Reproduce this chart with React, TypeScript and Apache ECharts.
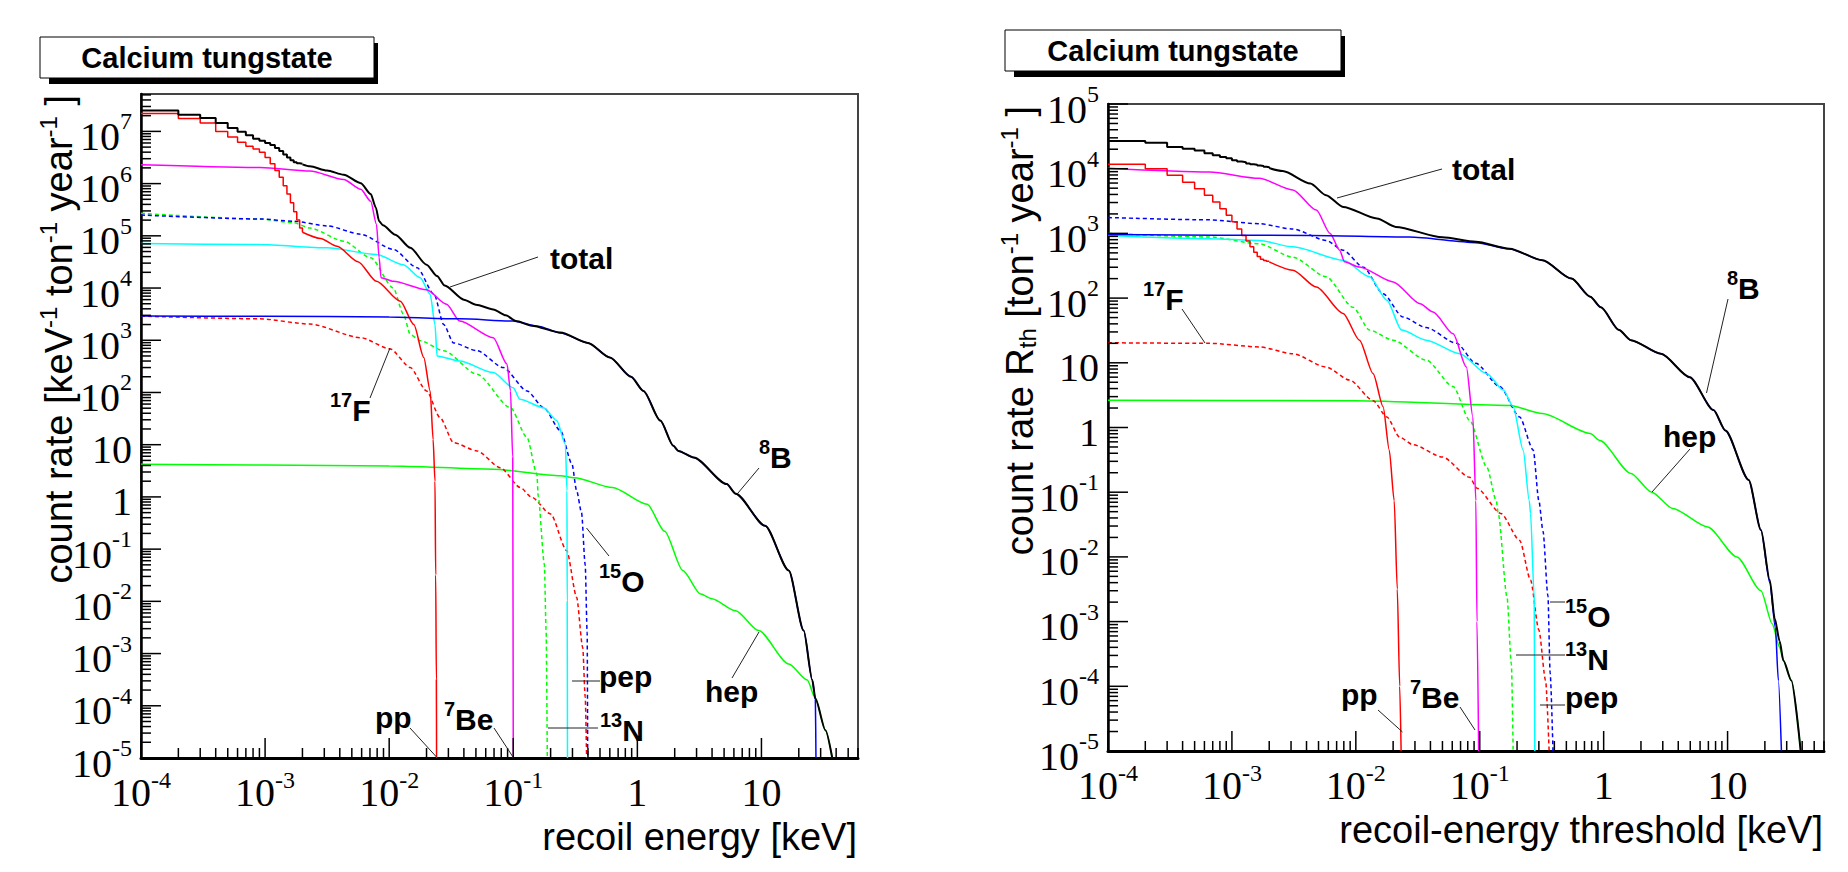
import React, { useEffect, useRef } from 'react';
import * as echarts from 'echarts';

type Pt = [number, number];

// ---------------- axis ranges ----------------
const X_RANGE: Pt = [1e-4, 60];
const LEFT_Y_RANGE: Pt = [1e-5, 5.2e7];
const RIGHT_Y_RANGE: Pt = [1e-5, 1e5];
const X_DECADES = [-4, -3, -2, -1, 0, 1];
const LEFT_Y_DECADES = [-5, -4, -3, -2, -1, 0, 1, 2, 3, 4, 5, 6, 7];
const RIGHT_Y_DECADES = [-5, -4, -3, -2, -1, 0, 1, 2, 3, 4, 5];
const MINOR_STEPS = [2, 3, 4, 5, 6, 7, 8, 9];

// ---------------- left panel: count rate vs recoil energy [keV, keV^-1 ton^-1 year^-1] ----------------
const leftTotalBins: Pt[] = [[1e-4, 2.51e7], [2e-4, 2.09e7], [3e-4, 1.8e7], [4e-4, 1.45e7], [5e-4, 1.16e7], [6e-4, 9.8e6], [7e-4, 8.4e6], [8e-4, 7.2e6], [9e-4, 6.6e6], [1.0e-3, 6.0e6], [1.1e-3, 5.5e6], [1.2e-3, 4.8e6], [1.3e-3, 4.2e6], [1.4e-3, 3.6e6], [1.5e-3, 3.16e6], [1.6e-3, 2.8e6], [1.7e-3, 2.57e6], [1.8e-3, 2.45e6], [1.9e-3, 2.4e6], [2.0e-3, 2.34e6]];
const leftTotal: Pt[] = [[2.0e-3, 2.34e6], [2.3e-3, 2.14e6], [3.16e-3, 1.78e6], [4.3e-3, 1.48e6], [5.9e-3, 1.02e6], [7.1e-3, 6.3e5], [7.8e-3, 3.5e5], [8.3e-3, 1.9e5], [8.9e-3, 1.6e5], [1.12e-2, 1.05e5], [1.48e-2, 5.9e4], [2.0e-2, 2.8e4], [2.43e-2, 1.7e4], [2.8e-2, 1.12e4], [4.0e-2, 6.0e3], [5.0e-2, 4.8e3], [6.9e-2, 3.9e3], [8.7e-2, 3.0e3], [0.105, 2.34e3], [0.141, 1.9e3], [0.24, 1.41e3], [0.40, 890], [0.60, 470], [0.89, 200], [1.12, 107], [1.53, 29], [1.95, 9.5], [2.14, 7.6], [2.84, 5.7], [5.25, 1.76], [6.2, 1.15], [10.7, 0.28], [16.6, 0.039], [21.9, 2.75e-3], [25.7, 3.1e-4], [27.2, 1.38e-4], [32.8, 3.4e-5], [37.2, 1e-5]];
const leftB8: Pt[] = [[1e-4, 2.9e3], [1e-3, 2.88e3], [1e-2, 2.8e3], [3.7e-2, 2.57e3], [0.1, 2.34e3], [0.158, 1.86e3], [0.24, 1.38e3], [0.40, 890], [0.60, 470], [0.89, 200], [1.12, 107], [1.53, 29], [1.95, 9.5], [2.14, 7.6], [2.84, 5.7], [5.25, 1.76], [6.2, 1.15], [10.7, 0.28], [16.6, 0.039], [21.9, 2.75e-3], [25.7, 3.1e-4], [27.2, 1.3e-4], [27.5, 1e-5]];
const leftPpBins: Pt[] = [[1e-4, 2.19e7], [2e-4, 1.76e7], [3e-4, 1.45e7], [4e-4, 1.0e7], [5e-4, 7.8e6], [6e-4, 6.2e6], [7e-4, 5.2e6], [8e-4, 4.6e6], [9e-4, 4.0e6], [1.0e-3, 3.16e6], [1.1e-3, 2.4e6], [1.2e-3, 1.78e6], [1.3e-3, 1.32e6], [1.4e-3, 9.1e5], [1.5e-3, 6.3e5], [1.6e-3, 4.3e5], [1.7e-3, 2.9e5], [1.8e-3, 2.0e5], [1.9e-3, 1.41e5], [2.0e-3, 1.17e5]];
const leftPp: Pt[] = [[2.0e-3, 1.17e5], [2.8e-3, 8.9e4], [3.8e-3, 6.3e4], [5.6e-3, 3.2e4], [7.9e-3, 1.35e4], [1.23e-2, 5.6e3], [1.58e-2, 2.0e3], [1.9e-2, 470], [2.14e-2, 107], [2.26e-2, 12.6], [2.34e-2, 2.0], [2.37e-2, 0.032], [2.40e-2, 3.2e-4], [2.41e-2, 1e-5]];
const leftBe7: Pt[] = [[1e-4, 2.3e6], [9.1e-4, 2.04e6], [2.3e-3, 1.74e6], [4.3e-3, 1.2e6], [5.9e-3, 7.8e5], [7.1e-3, 4.6e5], [7.9e-3, 1.66e5], [8.3e-3, 3.8e4], [8.6e-3, 1.58e4], [1.08e-2, 1.35e4], [2.0e-2, 9.3e3], [2.9e-2, 4.9e3], [3.7e-2, 2.34e3], [6.9e-2, 1.12e3], [8.9e-2, 350], [9.5e-2, 107], [9.9e-2, 5.7], [0.1, 1e-5]];
const leftO15: Pt[] = [[1e-4, 2.5e5], [9.1e-4, 2.1e5], [1.7e-3, 1.9e5], [3.16e-3, 1.55e5], [5.9e-3, 1.07e5], [1.08e-2, 5.5e4], [1.68e-2, 2.45e4], [2.3e-2, 7.6e3], [2.75e-2, 2.0e3], [3.3e-2, 890], [5.1e-2, 630], [8.3e-2, 300], [0.129, 107], [0.176, 51], [0.24, 18.6], [0.297, 4.3], [0.324, 1.32], [0.355, 0.5], [0.38, 0.05], [0.394, 2.5e-3], [0.398, 1e-5]];
const leftN13: Pt[] = [[1e-4, 2.7e5], [9.1e-4, 2.1e5], [1.7e-3, 1.78e5], [2.3e-3, 1.41e5], [4.3e-3, 7.9e4], [7.1e-3, 3.8e4], [1.08e-2, 1.0e4], [1.3e-2, 3.2e3], [1.48e-2, 1.29e3], [1.78e-2, 980], [2.75e-2, 630], [5.1e-2, 224], [9.5e-2, 51], [0.129, 13.8], [0.155, 2.75], [0.159, 1.0], [0.178, 0.052], [0.184, 2.75e-3], [0.188, 1e-5]];
const leftPep: Pt[] = [[1e-4, 7.1e4], [9.1e-4, 6.8e4], [3.16e-3, 5.9e4], [7.9e-3, 4.4e4], [1.3e-2, 2.8e4], [1.78e-2, 1.58e4], [2.14e-2, 7.6e3], [2.34e-2, 2.0e3], [2.43e-2, 500], [3.7e-2, 400], [6.9e-2, 240], [0.1, 123], [0.113, 74], [0.176, 51], [0.224, 29], [0.263, 10.2], [0.271, 1.32], [0.272, 0.01], [0.2735, 1e-5]];
const leftF17: Pt[] = [[1e-4, 2.9e3], [9.1e-4, 2.57e3], [2.3e-3, 2.04e3], [5.9e-3, 1.12e3], [1.02e-2, 680], [1.48e-2, 300], [2.0e-2, 107], [2.57e-2, 33], [3.3e-2, 11], [5.1e-2, 7.6], [7.9e-2, 3.6], [0.114, 1.51], [0.141, 0.98], [0.2, 0.47], [0.27, 0.093], [0.324, 0.012], [0.363, 1.3e-3], [0.38, 1.48e-4], [0.39, 1e-5]];
const leftHep: Pt[] = [[1e-4, 4.2], [1e-3, 4.1], [1e-2, 3.9], [6.9e-2, 3.4], [0.24, 2.54], [0.31, 2.34], [0.63, 1.51], [1.2, 0.72], [1.66, 0.22], [2.32, 0.039], [3.24, 0.0138], [3.98, 0.0112], [6.2, 6.6e-3], [9.5, 2.75e-3], [16.6, 6.3e-4], [23.4, 3.1e-4], [27.2, 1.38e-4], [32.8, 3.4e-5], [37.2, 1e-5]];

// ---------------- right panel: count rate above threshold [keV, ton^-1 year^-1] ----------------
const rightTotalBins: Pt[] = [[1e-4, 2.69e4], [2e-4, 2.51e4], [3e-4, 2.16e4], [4e-4, 2.04e4], [5e-4, 1.91e4], [6e-4, 1.74e4], [7e-4, 1.62e4], [8e-4, 1.51e4], [9e-4, 1.45e4], [1.0e-3, 1.35e4], [1.1e-3, 1.29e4], [1.2e-3, 1.26e4], [1.3e-3, 1.2e4], [1.4e-3, 1.17e4], [1.5e-3, 1.15e4], [1.6e-3, 1.12e4], [1.7e-3, 1.1e4], [1.8e-3, 1.07e4], [1.9e-3, 1.05e4], [2.0e-3, 1.02e4]];
const rightTotal: Pt[] = [[2.0e-3, 1.02e4], [2.57e-3, 9.2e3], [4.3e-3, 5.9e3], [5.75e-3, 3.9e3], [7.9e-3, 2.57e3], [1.48e-2, 1.7e3], [2.1e-2, 1.26e3], [5.0e-2, 870], [9.3e-2, 740], [0.174, 580], [0.32, 385], [0.55, 200], [0.78, 105], [0.95, 72], [1.33, 32], [1.66, 22.4], [2.9, 13.8], [4.95, 6.0], [7.7, 1.86], [9.6, 0.9], [14.8, 0.155], [18.6, 0.026], [21.9, 4.4e-3], [24.0, 1.12e-3], [26.3, 5e-4], [28.2, 2.5e-4], [32.7, 1.23e-4], [38.9, 1e-5]];
const rightB8: Pt[] = [[1e-4, 960], [4.3e-3, 930], [2.7e-2, 880], [9.3e-2, 720], [0.174, 575], [0.32, 385], [0.55, 200], [0.78, 105], [0.95, 72], [1.33, 32], [1.66, 22.4], [2.9, 13.8], [4.95, 6.0], [7.7, 1.86], [9.6, 0.9], [14.8, 0.155], [18.6, 0.026], [21.9, 4.0e-3], [24.3, 8e-4], [25.7, 1.23e-4], [27.2, 1e-5]];
const rightPpBins: Pt[] = [[1e-4, 1.17e4], [2e-4, 1.0e4], [3e-4, 7.9e3], [4e-4, 6.2e3], [5e-4, 4.9e3], [6e-4, 3.9e3], [7e-4, 3.05e3], [8e-4, 2.4e3], [9e-4, 1.9e3], [1.0e-3, 1.51e3], [1.1e-3, 1.17e3], [1.2e-3, 930], [1.3e-3, 760], [1.4e-3, 620], [1.5e-3, 510], [1.6e-3, 440], [1.7e-3, 400], [1.8e-3, 380], [1.9e-3, 370], [2.0e-3, 363]];
const rightPp: Pt[] = [[2.0e-3, 363], [3.1e-3, 270], [4.8e-3, 148], [7.9e-3, 58], [1.07e-2, 22.4], [1.38e-2, 6.8], [1.66e-2, 2.1], [1.86e-2, 0.45], [2.04e-2, 0.074], [2.16e-2, 3.2e-3], [2.26e-2, 1e-4], [2.32e-2, 1e-5]];
const rightBe7: Pt[] = [[1e-4, 1.02e4], [6.6e-4, 8.9e3], [1.66e-3, 7.1e3], [3.1e-3, 4.7e3], [4.8e-3, 2.3e3], [6.2e-3, 1.0e3], [7.4e-3, 550], [8.1e-3, 363], [1.07e-2, 302], [2.0e-2, 178], [3.3e-2, 82], [4.2e-2, 61], [6.1e-2, 28], [7.8e-2, 8.6], [8.8e-2, 1.45], [9.3e-2, 0.074], [9.5e-2, 1e-3], [9.8e-2, 1e-5]];
const rightO15: Pt[] = [[1e-4, 1.76e3], [6.6e-4, 1.62e3], [1.66e-3, 1.41e3], [3.1e-3, 1.17e3], [5.75e-3, 780], [7.9e-3, 550], [1.15e-2, 300], [1.66e-2, 117], [2.4e-2, 51], [3.7e-2, 35], [6.5e-2, 20], [9.3e-2, 9.8], [0.145, 4.3], [0.21, 1.45], [0.27, 0.45], [0.30, 0.074], [0.324, 0.025], [0.355, 2.5e-3], [0.37, 1.6e-4], [0.39, 1e-5]];
const rightN13: Pt[] = [[1e-4, 1.0e3], [6.6e-4, 880], [1.66e-3, 690], [3.1e-3, 430], [5.75e-3, 214], [9.5e-3, 72], [1.29e-2, 32], [2.0e-2, 22.4], [3.7e-2, 11], [6.1e-2, 4.3], [8.3e-2, 1.29], [0.114, 0.245], [0.136, 0.074], [0.141, 0.047], [0.166, 2.4e-3], [0.18, 2.2e-4], [0.186, 1e-5]];
const rightPep: Pt[] = [[1e-4, 930], [6.6e-4, 830], [1.66e-3, 780], [3.1e-3, 620], [7.9e-3, 385], [1.29e-2, 214], [1.78e-2, 93], [2.34e-2, 32], [3.7e-2, 22.4], [6.9e-2, 13.8], [0.114, 6.8], [0.155, 3.8], [0.186, 2.1], [0.224, 0.45], [0.251, 0.074], [0.257, 0.047], [0.275, 2.4e-3], [0.278, 1e-5]];
const rightF17: Pt[] = [[1e-4, 20.4], [6.6e-4, 20], [1.66e-3, 17.6], [3.1e-3, 13.8], [5.75e-3, 8.6], [8.9e-3, 5.4], [1.38e-2, 2.6], [1.78e-2, 1.45], [2.26e-2, 0.71], [2.9e-2, 0.54], [5.0e-2, 0.35], [8.3e-2, 0.17], [0.095, 0.115], [0.148, 0.047], [0.21, 0.018], [0.257, 4.4e-3], [0.30, 7.4e-4], [0.34, 1.23e-4], [0.363, 1e-5]];
const rightHep: Pt[] = [[1e-4, 2.63], [1e-2, 2.6], [0.174, 2.19], [0.32, 1.64], [0.78, 0.81], [0.93, 0.63], [1.66, 0.195], [2.44, 0.1], [3.6, 0.056], [6.9, 0.029], [11.9, 0.01], [18.6, 3.0e-3], [22.9, 9.3e-4], [26.3, 4.0e-4], [28.2, 2.5e-4], [32.7, 1.23e-4], [38.9, 1e-5]];

// ---------------- text ----------------
const TITLE = 'Calcium tungstate';
const LEFT_X_TITLE = 'recoil energy [keV]';
const RIGHT_X_TITLE = 'recoil-energy threshold [keV]';
const LEFT_Y_TITLE = '{b|count rate [keV}{s|-1}{b| ton}{s|-1}{b| year}{s|-1}{b| ]}';
const RIGHT_Y_TITLE = '{b|count rate R}{d|th}{b| [ton}{s|-1}{b| year}{s|-1}{b| ]}';

type Note = { sup?: string; text: string; x: number; y: number; line: [number, number, number, number] };
const leftNotes: Note[] = [
  { text: 'total', x: 550, y: 258, line: [538, 257, 450, 287] },
  { sup: '17', text: 'F', x: 330, y: 410, line: [370, 398, 390, 348] },
  { sup: '8', text: 'B', x: 759, y: 457, line: [759, 468, 738, 493] },
  { sup: '15', text: 'O', x: 599, y: 581, line: [609, 556, 586.5, 528] },
  { text: 'hep', x: 705, y: 691, line: [732, 678, 759, 632] },
  { text: 'pep', x: 599, y: 676, line: [572, 681, 600, 681] },
  { sup: '13', text: 'N', x: 600, y: 730, line: [548, 728, 598, 728] },
  { text: 'pp', x: 375, y: 717, line: [410, 728, 436.5, 757] },
  { sup: '7', text: 'Be', x: 444, y: 719, line: [494, 728, 513, 757] },
];
const rightNotes: Note[] = [
  { text: 'total', x: 1452, y: 169, line: [1442, 169, 1337, 198] },
  { sup: '17', text: 'F', x: 1143, y: 299, line: [1182, 309, 1205, 343] },
  { sup: '8', text: 'B', x: 1727, y: 288, line: [1728, 299, 1706.5, 393] },
  { text: 'hep', x: 1663, y: 436, line: [1690, 449, 1652, 492] },
  { sup: '15', text: 'O', x: 1565, y: 616, line: [1550, 602, 1565, 602] },
  { sup: '13', text: 'N', x: 1565, y: 659, line: [1516, 655, 1565, 655] },
  { text: 'pep', x: 1565, y: 697, line: [1540, 705, 1565, 705] },
  { text: 'pp', x: 1341, y: 694, line: [1378, 710, 1402.5, 732] },
  { sup: '7', text: 'Be', x: 1410, y: 697, line: [1460, 707, 1475, 730] },
];

// ---------------- styles ----------------
const SANS = 'Liberation Sans, Arial, Helvetica, sans-serif';
const SERIF = 'Liberation Serif, Times New Roman, serif';
const DASH = [4, 3];
const STY: Record<string, { color: string; width: number; type: any }> = {
  total: { color: '#000000', width: 2, type: 'solid' },
  pp: { color: '#ff0000', width: 1.5, type: 'solid' },
  be7: { color: '#ff00ff', width: 1.5, type: 'solid' },
  pep: { color: '#00ffff', width: 1.5, type: 'solid' },
  n13: { color: '#00ff00', width: 1.5, type: DASH },
  o15: { color: '#0000ff', width: 1.5, type: DASH },
  f17: { color: '#ff0000', width: 1.5, type: DASH },
  b8: { color: '#0000ff', width: 1.5, type: 'solid' },
  hep: { color: '#00ff00', width: 1.5, type: 'solid' },
};

const TICK_FONT = 40;
const TICK_SUP_FONT = 24;
const X_LABEL_GAP = 34;   // axis line -> centre of tick-label digits
const X_TITLE_GAP = 44.5; // tick-label centre -> axis-title centre
// note labels: line box 35, base glyph centre 2.5px below box centre, superscript raised 10px
const NOTE_RICH = {
  b: { fontFamily: SANS, fontWeight: 'bold', fontSize: 30, lineHeight: 35, verticalAlign: 'bottom', fill: '#000' },
  s: { fontFamily: SANS, fontWeight: 'bold', fontSize: 20, lineHeight: 20, verticalAlign: 'top', fill: '#000' },
};
// axis titles: line box 42, base centre 2px below box centre
const YTITLE_RICH = {
  b: { fontFamily: SANS, fontSize: 38, lineHeight: 42, verticalAlign: 'bottom', fill: '#000' },
  s: { fontFamily: SANS, fontSize: 24, lineHeight: 24, verticalAlign: 'top', fill: '#000' },
  d: { fontFamily: SANS, fontSize: 24, lineHeight: 24, verticalAlign: 'bottom', fill: '#000' },
};

const lg = (v: number) => Math.log10(v);

function expParts(e: number): { base: string; sup: string } {
  if (e === 0) return { base: '1', sup: '' };
  if (e === 1) return { base: '10', sup: '' };
  return { base: '10', sup: String(e) };
}
// Times/Liberation Serif advance widths: digits 0.5 em, hyphen 0.333 em
function serifWidth(s: string, size: number) {
  let w = 0;
  for (const ch of s) w += ch === '-' ? 0.333 : 0.5;
  return w * size;
}

function curve(name: string, pts: Pt[], grid: number, key: string, step = false, z = 3) {
  const s = STY[key];
  return {
    type: 'line', name, xAxisIndex: grid, yAxisIndex: grid,
    data: pts.map(([e, r]) => [lg(e), lg(r)]),
    symbol: 'none', showSymbol: false, silent: true,
    step: step ? 'end' : false,
    smooth: step ? false : 0.25, smoothMonotone: 'x',
    lineStyle: { color: s.color, width: s.width, type: s.type },
    z,
  };
}

function ticks(grid: number, axis: 'x' | 'y', decades: number[], maxLog: number, xMinLog: number, yMinLog: number) {
  const data: number[][] = [];
  for (const d of decades) {
    for (const m of [1, ...MINOR_STEPS]) {
      const v = d + Math.log10(m);
      if (v > maxLog + 1e-9) continue;
      data.push(axis === 'x' ? [v, yMinLog, m === 1 ? 1 : 0] : [xMinLog, v, m === 1 ? 1 : 0]);
    }
  }
  return {
    type: 'custom', xAxisIndex: grid, yAxisIndex: grid, silent: true, clip: false, z: 6,
    encode: { x: 0, y: 1 }, data,
    renderItem: (_p: any, api: any) => {
      const pt = api.coord([api.value(0), api.value(1)]);
      const len = api.value(2) === 1 ? 20 : 10;
      const shape = axis === 'x'
        ? { x1: pt[0], y1: pt[1], x2: pt[0], y2: pt[1] - len }
        : { x1: pt[0], y1: pt[1], x2: pt[0] + len, y2: pt[1] };
      return { type: 'line', shape, style: { stroke: '#000', lineWidth: 1.5 } };
    },
  };
}

function xAxis(gridIndex: number) {
  return {
    type: 'value', gridIndex, min: lg(X_RANGE[0]), max: lg(X_RANGE[1]), interval: 1,
    axisLine: { show: true, onZero: false, lineStyle: { color: '#000', width: 3 } },
    axisTick: { show: false }, splitLine: { show: false }, axisLabel: { show: false },
  };
}
function yAxis(gridIndex: number, range: Pt) {
  return {
    type: 'value', gridIndex, min: lg(range[0]), max: lg(range[1]), interval: 1,
    axisLine: { show: true, onZero: false, lineStyle: { color: '#000', width: 2.5 } },
    axisTick: { show: false }, splitLine: { show: false }, axisLabel: { show: false },
  };
}

function notesGraphics(notes: Note[]) {
  const out: any[] = [];
  for (const n of notes) {
    out.push({ type: 'line', silent: true, z: 10, shape: { x1: n.line[0], y1: n.line[1], x2: n.line[2], y2: n.line[3] }, style: { stroke: '#222', lineWidth: 1 } });
    out.push({
      type: 'text', silent: true, z: 10, x: n.x, y: n.y - 2.5,
      style: { text: n.sup ? `{s|${n.sup}}{b|${n.text}}` : `{b|${n.text}}`, rich: NOTE_RICH, align: 'left', verticalAlign: 'middle', fill: '#000' },
    });
  }
  return out;
}

function titleBox(x: number, y: number, w: number, h: number) {
  return [
    { type: 'rect', silent: true, z: 10, shape: { x: x + 9, y: y + 6, width: w - 5, height: h }, style: { fill: '#000' } },
    { type: 'rect', silent: true, z: 11, shape: { x, y, width: w, height: h }, style: { fill: '#fff', stroke: '#000', lineWidth: 1 } },
    { type: 'text', silent: true, z: 12, x: x + w / 2, y: y + h / 2, style: { text: TITLE, fontFamily: SANS, fontWeight: 'bold', fontSize: 29, fill: '#000', align: 'center', verticalAlign: 'middle' } },
  ];
}

function serifText(text: string, x: number, y: number, size: number, align: string) {
  return { type: 'text', silent: true, z: 10, x, y, style: { text, fontFamily: SERIF, fontSize: size, lineHeight: Math.round(size * 0.68), fill: '#000', align, verticalAlign: 'middle' } };
}

// tick labels and x-axis titles placed through the grid's own coordinate conversion
function axisTexts(chart: any, grid: number, yDecades: number[], xTitle: string) {
  const out: any[] = [];
  const xMin = lg(X_RANGE[0]);
  const yMin = -5;
  let axisY = 0;
  let rightX = 0;
  for (const e of X_DECADES) {
    const p = chart.convertToPixel({ gridIndex: grid }, [e, yMin]);
    axisY = p[1];
    const { base, sup } = expParts(e);
    const bw = serifWidth(base, TICK_FONT);
    const sw = serifWidth(sup, TICK_SUP_FONT);
    const left = p[0] - (bw + sw) / 2;
    const cy = p[1] + X_LABEL_GAP;
    out.push(serifText(base, left, cy, TICK_FONT, 'left'));
    if (sup) out.push(serifText(sup, left + bw, cy - 12, TICK_SUP_FONT, 'left'));
  }
  for (const e of yDecades) {
    const p = chart.convertToPixel({ gridIndex: grid }, [xMin, e]);
    const { base, sup } = expParts(e);
    const sw = serifWidth(sup, TICK_SUP_FONT);
    const right = p[0] - 9;
    const cy = p[1] + 5;
    out.push(serifText(base, right - sw, cy, TICK_FONT, 'right'));
    if (sup) out.push(serifText(sup, right, cy - 15, TICK_SUP_FONT, 'right'));
  }
  rightX = chart.convertToPixel({ gridIndex: grid }, [lg(X_RANGE[1]), yMin])[0];
  out.push({
    type: 'text', silent: true, z: 10, x: rightX - 1, y: axisY + X_LABEL_GAP + X_TITLE_GAP,
    style: { text: xTitle, fontFamily: SANS, fontSize: 38, lineHeight: 30, fill: '#000', align: 'right', verticalAlign: 'middle' },
  });
  return out;
}

function buildOption() {
  const series: any[] = [
    curve('hep', leftHep, 0, 'hep'),
    curve('17F', leftF17, 0, 'f17'),
    curve('13N', leftN13, 0, 'n13'),
    curve('15O', leftO15, 0, 'o15'),
    curve('pep', leftPep, 0, 'pep'),
    curve('7Be', leftBe7, 0, 'be7'),
    curve('pp', leftPpBins, 0, 'pp', true),
    curve('pp', leftPp, 0, 'pp'),
    curve('8B', leftB8, 0, 'b8'),
    curve('total', leftTotalBins, 0, 'total', true, 4),
    curve('total', leftTotal, 0, 'total', false, 4),
    curve('hep', rightHep, 1, 'hep'),
    curve('17F', rightF17, 1, 'f17'),
    curve('13N', rightN13, 1, 'n13'),
    curve('15O', rightO15, 1, 'o15'),
    curve('pep', rightPep, 1, 'pep'),
    curve('7Be', rightBe7, 1, 'be7'),
    curve('pp', rightPpBins, 1, 'pp', true),
    curve('pp', rightPp, 1, 'pp'),
    curve('8B', rightB8, 1, 'b8'),
    curve('total', rightTotalBins, 1, 'total', true, 4),
    curve('total', rightTotal, 1, 'total', false, 4),
    ticks(0, 'x', X_DECADES, lg(X_RANGE[1]), lg(X_RANGE[0]), lg(LEFT_Y_RANGE[0])),
    ticks(0, 'y', LEFT_Y_DECADES, lg(LEFT_Y_RANGE[1]), lg(X_RANGE[0]), lg(LEFT_Y_RANGE[0])),
    ticks(1, 'x', X_DECADES, lg(X_RANGE[1]), lg(X_RANGE[0]), lg(RIGHT_Y_RANGE[0])),
    ticks(1, 'y', RIGHT_Y_DECADES, lg(RIGHT_Y_RANGE[1]), lg(X_RANGE[0]), lg(RIGHT_Y_RANGE[0])),
  ];

  return {
    animation: false,
    backgroundColor: '#ffffff',
    grid: [
      { left: 141, top: 94, width: 717, height: 664, show: true, borderColor: '#444', borderWidth: 2, backgroundColor: 'transparent' },
      { left: 1108, top: 104, width: 716, height: 647, show: true, borderColor: '#444', borderWidth: 2, backgroundColor: 'transparent' },
    ],
    xAxis: [xAxis(0), xAxis(1)],
    yAxis: [yAxis(0, LEFT_Y_RANGE), yAxis(1, RIGHT_Y_RANGE)],
    series,
  };
}

function staticGraphics() {
  return [
    ...titleBox(40, 37, 334, 41),
    ...titleBox(1005, 30, 336, 41),
    { type: 'text', silent: true, x: 57, y: 95, rotation: Math.PI / 2, style: { text: LEFT_Y_TITLE, rich: YTITLE_RICH, align: 'right', verticalAlign: 'middle', fill: '#000' } },
    { type: 'text', silent: true, x: 1018, y: 106, rotation: Math.PI / 2, style: { text: RIGHT_Y_TITLE, rich: YTITLE_RICH, align: 'right', verticalAlign: 'middle', fill: '#000' } },
    ...notesGraphics(leftNotes),
    ...notesGraphics(rightNotes),
  ];
}

export default function App() {
  const ref = useRef<HTMLDivElement>(null);
  useEffect(() => {
    if (!ref.current) return;
    const chart = echarts.init(ref.current, undefined, { renderer: 'svg' });
    chart.setOption(buildOption() as any);
    const graphic = [
      ...staticGraphics(),
      ...axisTexts(chart, 0, LEFT_Y_DECADES, LEFT_X_TITLE),
      ...axisTexts(chart, 1, RIGHT_Y_DECADES, RIGHT_X_TITLE),
    ];
    chart.setOption({ graphic } as any);
    return () => chart.dispose();
  }, []);
  return <div ref={ref} style={{ position: 'fixed', left: 0, top: 0, width: 1848, height: 872, background: '#fff' }} />;
}
